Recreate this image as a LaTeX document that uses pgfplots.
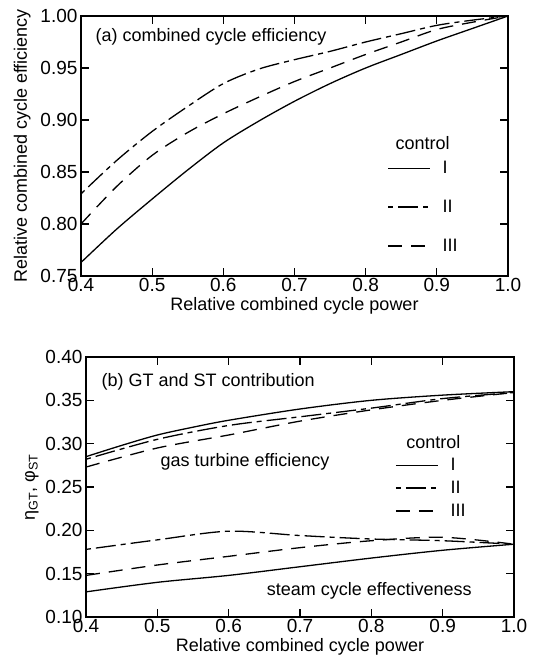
\documentclass[border=0pt]{standalone}
\usepackage{pgfplots}
\pgfplotsset{compat=1.18}
\usepackage{fontspec}
\setmainfont{Liberation Sans}
\begin{document}
\begin{tikzpicture}
\useasboundingbox (0pt,0pt) rectangle (536pt,668pt);
\pgfplotsset{
  myax/.style={
    scale only axis, width=427pt, height=260pt,
    anchor=south west,
    xmin=0.4, xmax=1.0,
    xtick={0.4,0.5,0.6,0.7,0.8,0.9,1.0},
    tick align=inside, major tick length=8pt,
    tick style={line width=1.3pt, black},
    axis line style={line width=1.5pt},
    font=\fontsize{18}{20}\selectfont,
    ticklabel style={font=\fontsize{19}{20}\selectfont},
    xticklabel style={inner sep=2pt},
    /pgf/number format/assume math mode=true,
    xticklabel style={/pgf/number format/.cd, fixed, fixed zerofill, precision=1},
    yticklabel style={/pgf/number format/.cd, fixed, fixed zerofill, precision=2},
    legend style={draw=none, fill=none, font=\fontsize{18}{20}\selectfont, cells={anchor=west}},
    legend image code/.code={\draw[##1] (0pt,0pt) -- (42pt,0pt); \path (52pt,0pt);},
    every axis plot/.append style={black, line width=1.3pt, smooth, tension=0.5},
  },
  cI/.style={solid},
  cII/.style={dash pattern=on 5pt off 5pt on 20pt off 5pt},
  cIII/.style={dash pattern=on 14pt off 9pt},
}
% ---------------- (a) ----------------
\begin{axis}[myax, at={(81pt,392pt)},
  ymin=0.75, ymax=1.0,
  ytick={0.75,0.80,0.85,0.90,0.95,1.00},
  xlabel={Relative combined cycle power},
  ylabel={Relative combined cycle efficiency},
  ylabel style={yshift=3pt},
  legend style={at={(axis cs:0.826,0.8644)}, anchor=north west, row sep=21pt},
  legend entries={I,II,III},
]
\addplot[cI] coordinates {(0.40,0.763) (0.45,0.795) (0.50,0.824) (0.55,0.852) (0.60,0.878) (0.65,0.899) (0.70,0.918) (0.75,0.935) (0.80,0.950) (0.85,0.963) (0.90,0.976) (0.95,0.988) (1.00,1.000)};
\addplot[cII] coordinates {(0.40,0.829) (0.45,0.861) (0.50,0.889) (0.55,0.913) (0.60,0.935) (0.65,0.949) (0.70,0.958) (0.75,0.966) (0.80,0.975) (0.85,0.983) (0.90,0.991) (0.95,0.996) (1.00,1.000)};
\addplot[cIII] coordinates {(0.40,0.800) (0.45,0.836) (0.50,0.866) (0.55,0.888) (0.60,0.906) (0.65,0.922) (0.70,0.937) (0.75,0.950) (0.80,0.963) (0.85,0.975) (0.90,0.987) (0.95,0.994) (1.00,1.000)};
\node[anchor=west] at (axis cs:0.4155,0.980) {(a) combined cycle efficiency};
\node at (axis cs:0.880,0.878) {control};
\end{axis}
% ---------------- (b) ----------------
\begin{axis}[myax, at={(86pt,51pt)}, width=428pt,
  ymin=0.10, ymax=0.40,
  ytick={0.10,0.15,0.20,0.25,0.30,0.35,0.40},
  xlabel={Relative combined cycle power},
  ylabel={η\textsubscript{GT}, φ\textsubscript{ST}},
  legend style={at={(axis cs:0.829,0.288)}, anchor=north west, row sep=5pt},
  legend entries={I,II,III},
]
\addplot[cI] coordinates {(0.40,0.285) (0.45,0.298) (0.50,0.310) (0.55,0.319) (0.60,0.327) (0.70,0.340) (0.80,0.350) (0.90,0.356) (1.00,0.360)};
\addplot[cII] coordinates {(0.40,0.282) (0.50,0.305) (0.60,0.321) (0.70,0.331) (0.80,0.341) (0.90,0.352) (1.00,0.359)};
\addplot[cIII] coordinates {(0.40,0.273) (0.50,0.295) (0.60,0.310) (0.70,0.326) (0.80,0.339) (0.90,0.350) (1.00,0.359)};
\addplot[cI] coordinates {(0.40,0.129) (0.50,0.140) (0.60,0.148) (0.70,0.158) (0.80,0.168) (0.90,0.177) (1.00,0.184)};
\addplot[cII] coordinates {(0.40,0.178) (0.50,0.189) (0.60,0.199) (0.70,0.194) (0.80,0.190) (0.90,0.188) (1.00,0.184)};
\addplot[cIII] coordinates {(0.40,0.148) (0.50,0.160) (0.60,0.170) (0.70,0.180) (0.80,0.188) (0.90,0.192) (1.00,0.184)};
\node[anchor=west] at (axis cs:0.4168,0.371) {(b) GT and ST contribution};
\node at (axis cs:0.623,0.279) {gas turbine efficiency};
\node at (axis cs:0.797,0.130) {steam cycle effectiveness};
\node at (axis cs:0.887,0.302) {control};
\end{axis}
\end{tikzpicture}
\end{document}
